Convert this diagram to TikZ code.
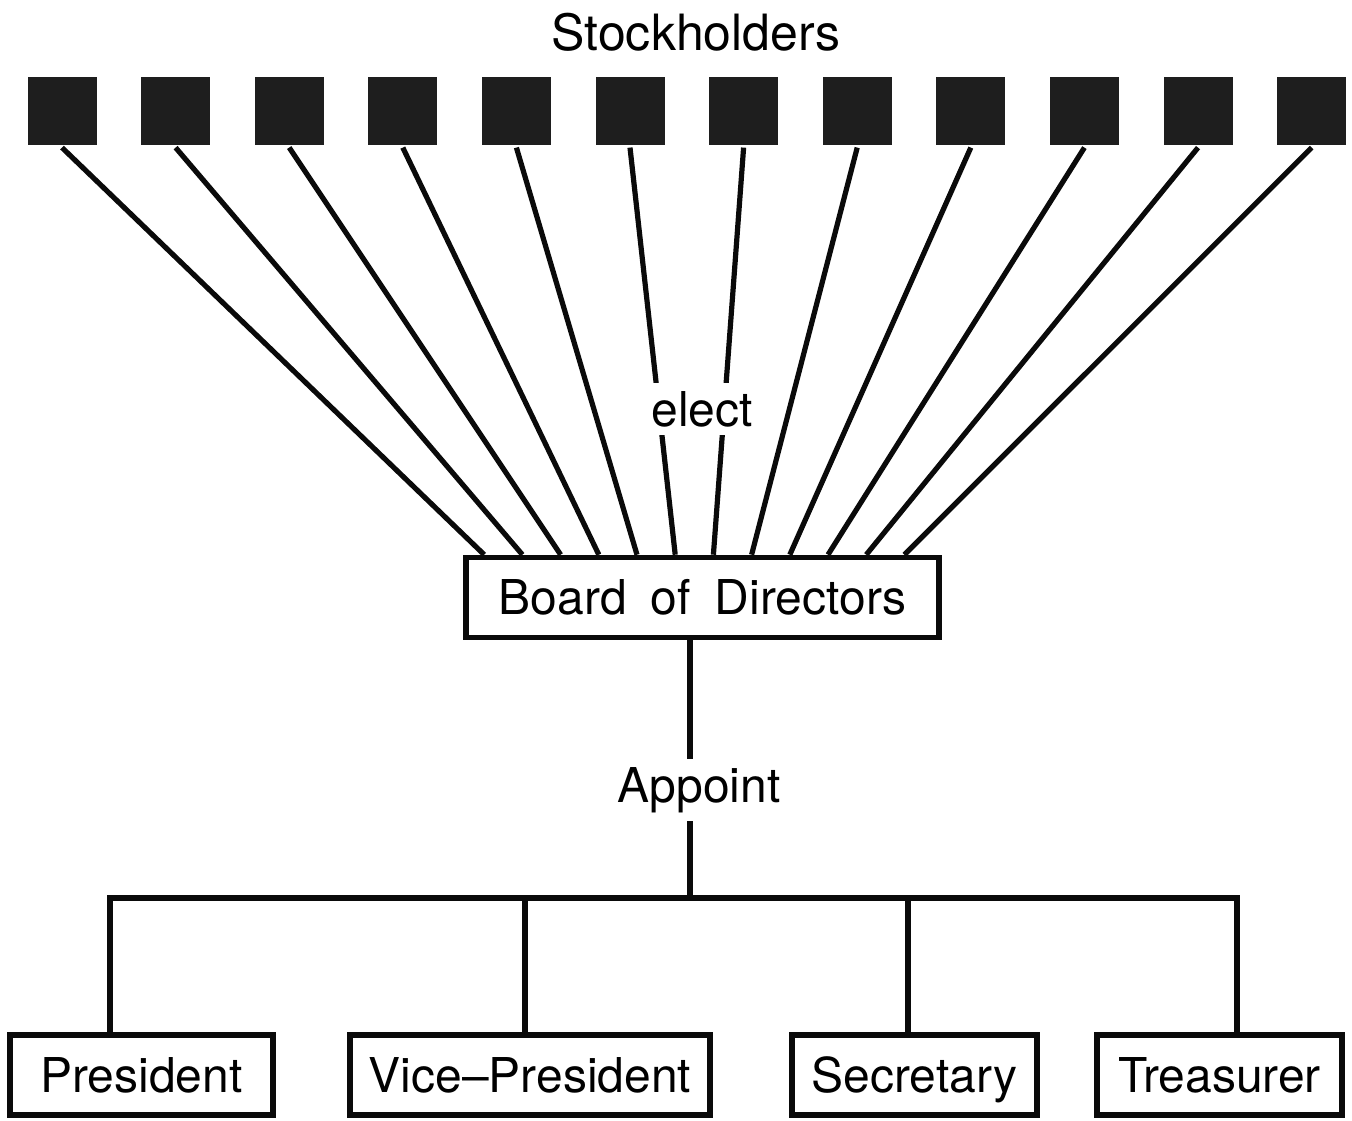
\documentclass[tikz,border=0pt]{standalone}
\usepackage{fontspec}
\setmainfont{TeX Gyre Heros}
\usepackage{tikz}
\usetikzlibrary{positioning, calc}
\definecolor{inkblack}{RGB}{10, 10, 10}
\definecolor{sharegrey}{RGB}{30, 30, 30}

\begin{document}
\begin{tikzpicture}[x=0.5pt, y=-0.5pt, line width=2.6pt, draw=inkblack,
  share/.style={fill=sharegrey, minimum width=34.5pt, minimum height=34pt, inner sep=0pt},
  office/.style={draw=inkblack, line width=2.8pt, minimum height=40pt, inner sep=0pt, text height=17.2pt, text depth=0pt, font=\fontsize{24}{28}\selectfont},
  verb/.style={font=\fontsize{24}{28}\selectfont, inner sep=3pt}]
\useasboundingbox (0,0) rectangle (1352,1120);

\node[font=\fontsize{25}{30}\selectfont] (stock) at (696,32) {Stockholders};
\foreach \i in {1,...,12}
  \node[share] (s\i) at ({62+113.6*(\i-1)},111) {};

\node[office, minimum width=236.5pt] (board) at (702.5,597.5) {\spaceskip=12pt Board of Directors};

\foreach \i in {1,...,12}
  \draw (s\i.south) -- ([xshift={10.5pt+19.1pt*(\i-1)}]board.north west);
\node[verb, fill=white, inner sep=4pt] (elect) at (702,409) {elect};

\node[verb] (appoint) at (699,790) {Appoint};
\coordinate (j) at (690,898);
\draw (board.south -| j) -- (appoint.north -| j);
\draw (appoint.south -| j) -- (j);

\node[office, minimum width=131.5pt] (pres) at (141.5,1075) {President};
\node[office, minimum width=180pt] (vice) at (530,1075) {Vice–President};
\node[office, minimum width=122.5pt] (sec) at (914.5,1075) {Secretary};
\node[office, minimum width=122.5pt] (treas) at (1219.5,1075) {Treasurer};

\coordinate (b1) at (110,898);
\coordinate (b2) at (525,898);
\coordinate (b3) at (908,898);
\coordinate (b4) at (1237,898);
\draw (b1 |- pres.north) -- (b1) -- (b4) -- (b4 |- treas.north);
\draw (b2) -- (b2 |- vice.north);
\draw (b3) -- (b3 |- sec.north);

\end{tikzpicture}
\end{document}
